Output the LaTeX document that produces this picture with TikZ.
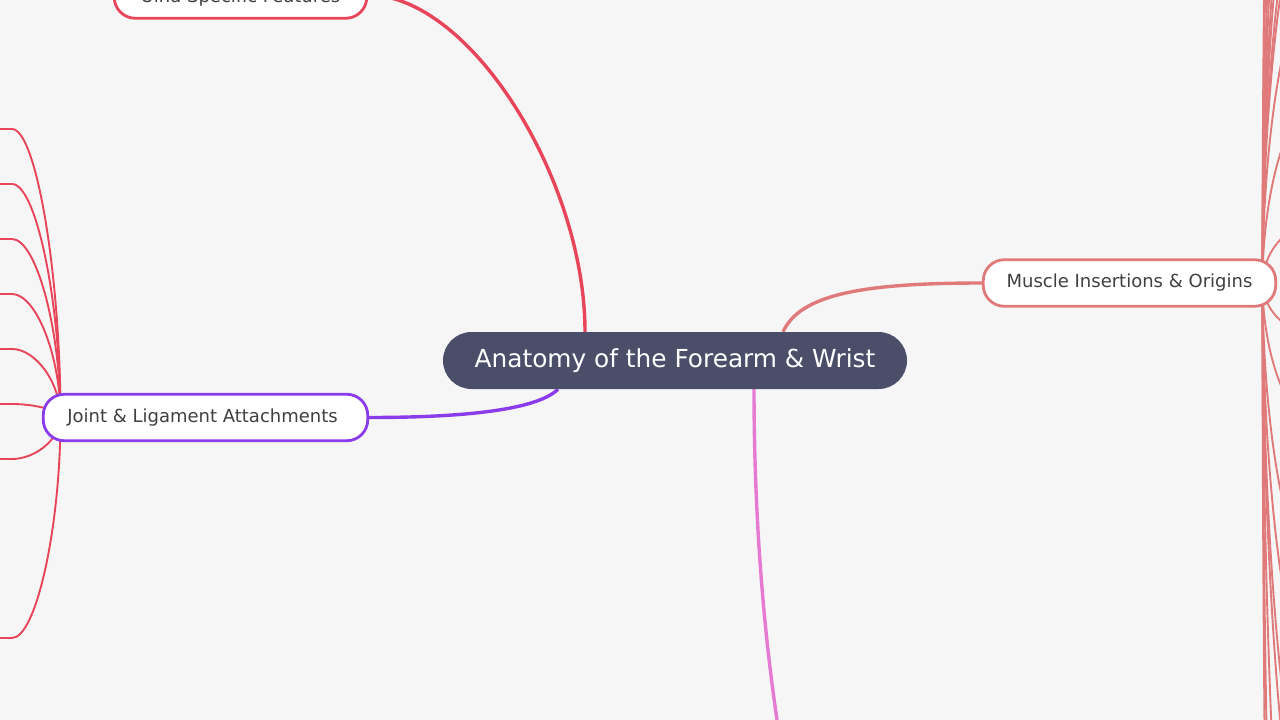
\documentclass[tikz,border=0pt]{standalone}
\usepackage{fontspec}
\setmainfont{DejaVu Sans}
\usetikzlibrary{backgrounds}

\definecolor{bgcol}{HTML}{F6F6F6}
\definecolor{rootcol}{HTML}{4A4E69}
\definecolor{ulnacol}{HTML}{E8455A}
\definecolor{jointcol}{HTML}{8A3BEA}
\definecolor{musclecol}{HTML}{E07A7A}
\definecolor{bonecol}{HTML}{E67AD2}
\definecolor{txtcol}{HTML}{404040}

\tikzset{
  rootnode/.style={fill=rootcol, text=white, rounded corners=28.5pt,
    minimum height=57pt, inner sep=0pt, font=\fontsize{24.8}{28}\selectfont},
  topic/.style={draw, fill=white, line width=2.8pt, rounded corners=21pt,
    minimum height=46.5pt, inner sep=0pt, text=txtcol,
    font=\fontsize{18}{22}\selectfont},
  branch/.style={line width=3.4pt},
  twig/.style={line width=1.9pt}
}

\begin{document}
\begin{tikzpicture}[x=1pt,y=-1pt]
			\useasboundingbox (0,0) rectangle (1280,720);
			\clip (0,0) rectangle (1280,720);

			% Knoten
			\node[rootnode, minimum width=464pt] (root) at (675,360.5) {Anatomy of the Forearm \& Wrist};
			\node[topic, draw=ulnacol, minimum width=252.5pt, text height=15.4pt, text depth=0pt] (ulna) at (240.5,-5) {Ulna Specific Features};
			\node[topic, draw=jointcol, minimum width=324.5pt] (joint) at (205.5,417.5) {\hspace*{-6pt}Joint \& Ligament Attachments};
			\node[topic, draw=musclecol, minimum width=292.5pt] (muscle) at (1129.5,283) {Muscle Insertions \& Origins};

			\coordinate (jhub) at ([xshift=-145pt]joint.center);
			\coordinate (mhub) at ([xshift=133pt]muscle.center);
			\coordinate (bones) at (860,1000);

			\begin{scope}[on background layer]
				\fill[bgcol] (0,0) rectangle (1280,720);
				\clip (0,0) rectangle (1280,720);

				% Hauptaeste
				\draw[branch, ulnacol] ([xshift=-90pt]root.north) .. controls (585,179) and (470,-5) .. (ulna.east);
				\draw[branch, jointcol] ([xshift=-117pt]root.south) .. controls (535,412) and (450,417.5) .. (joint.east);
				\draw[branch, musclecol] ([xshift=108pt]root.north) .. controls (800,295) and (860,283) .. (muscle.west);
				\draw[branch, bonecol] ([xshift=79pt]root.south) .. controls (754,650) and (795,900) .. (bones);

				% Zweige links
				\foreach \y [count=\i] in {129,184,239,294,349,404,459,638} {
					\coordinate (jc\i) at (-5,\y);
					\draw[twig, ulnacol] (jhub) .. controls (60.5,{(417.5+\y)/2}) and (36,\y) .. (12,\y) -- (jc\i);
				}

				% Zweige rechts
				\foreach \y [count=\i] in {225,110,-5,-100,-130,-190,-240,-330,-450,-700,-1000,333,418,559,667,802,870,1100,1500,2000} {
					\coordinate (mc\i) at (1310,\y);
					\draw[twig, musclecol] (mhub) .. controls (1262.5,{(283+\y)/2}) and (1286,\y) .. (mc\i);
				}
			\end{scope}

		\end{tikzpicture}
\end{document}
